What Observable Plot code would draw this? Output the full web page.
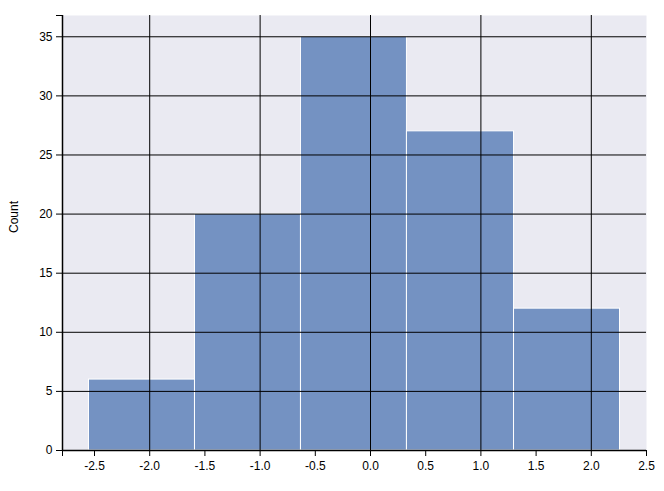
<!DOCTYPE html>
<html><head><meta charset="utf-8">
<script src="https://cdn.jsdelivr.net/npm/d3@7"></script>
<script src="https://cdn.jsdelivr.net/npm/@observablehq/plot@0.6"></script>
<style>body{margin:0;background:#fff;font-family:"Liberation Sans",Arial,sans-serif}</style>
</head><body><div id="chart"></div>
<script>
const binStarts = [-2.55, -1.59, -0.63, 0.33, 1.30];
const binEnds = [-1.59, -0.63, 0.33, 1.30, 2.26];
const counts = [6, 20, 35, 27, 12];
const xTicks = [-2.5, -2.0, -1.5, -1.0, -0.5, 0.0, 0.5, 1.0, 1.5, 2.0, 2.5];
const yTicks = [0, 5, 10, 15, 20, 25, 30, 35];
const xGrid = [-2, -1, 0, 1, 2];
const xDomain = [-2.79, 2.5];
const yDomain = [0, 36.8];

const bins = counts.map((c, i) => ({x1: binStarts[i], x2: binEnds[i], y: c}));
const fmtX = d => d3.format(".1f")(d).replace("\u2212", "-");

const chart = Plot.plot({
  width: 664, height: 491,
  marginLeft: 62, marginRight: 18, marginTop: 15, marginBottom: 41,
  style: {fontFamily: '"Liberation Sans", Arial, sans-serif', fontSize: "12px", color: "#000", background: "#fff"},
  x: {domain: xDomain},
  y: {domain: yDomain},
  marks: [
    Plot.frame({fill: "#eaeaf2", stroke: "none"}),
    Plot.rectY(bins, {x1: "x1", x2: "x2", y: "y", fill: "#7492c2", stroke: "#fff", strokeWidth: 1, inset: 0}),
    Plot.ruleY(yTicks.filter(d => d > 0), {stroke: "#000", strokeWidth: 1}),
    Plot.ruleX(xGrid, {stroke: "#000", strokeWidth: 1}),
    Plot.ruleX([xDomain[0]], {stroke: "#000", strokeWidth: 1.5}),
    Plot.ruleY([0], {stroke: "#000", strokeWidth: 1.5}),
    Plot.axisX([xDomain[0], ...xTicks], {tickSize: 6, tickPadding: 5, tickFormat: d => d === xDomain[0] ? "" : fmtX(d), label: null, stroke: "#000"}),
    Plot.axisY([...yTicks, yDomain[1]], {tickSize: 6, tickPadding: 4, tickFormat: d => d === yDomain[1] ? "" : String(d), label: null, stroke: "#000"}),
    Plot.text(["Count"], {frameAnchor: "left", dx: -48, rotate: -90, fontSize: 12, fill: "#000"})
  ]
});
document.getElementById("chart").append(chart);
</script></body></html>
